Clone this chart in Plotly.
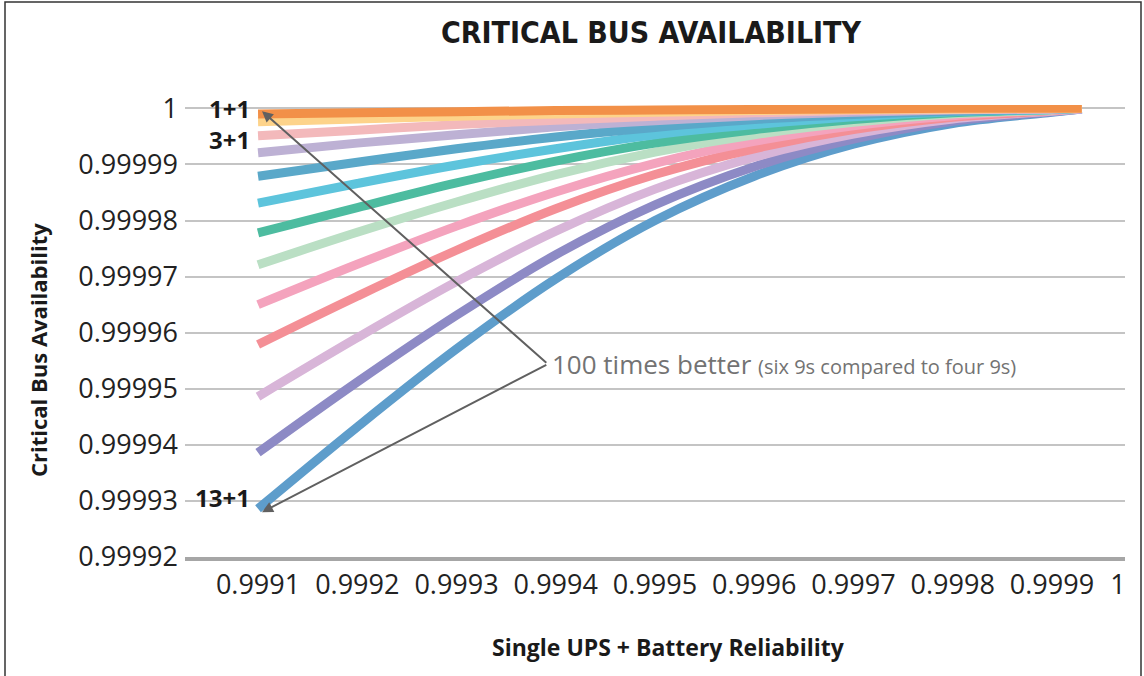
import plotly.graph_objects as go

# ---- data ----
x_rel = [0.9991, 0.9992, 0.9993, 0.9994, 0.9995, 0.9996, 0.9997, 0.9998, 0.9999, 0.99993]

config_names = ["1+1", "2+1", "3+1", "4+1", "5+1", "6+1", "7+1",
                "8+1", "9+1", "10+1", "11+1", "12+1", "13+1"]

avail_1p1 = [0.9999990, 0.9999992, 0.9999994, 0.9999996, 0.9999997, 0.9999998, 0.9999999, 1.0000000, 1.0000000, 1.0000000]
avail_2p1 = [0.9999976, 0.9999981, 0.9999986, 0.9999990, 0.9999993, 0.9999996, 0.9999998, 0.9999999, 1.0000000, 1.0000000]
avail_3p1 = [0.9999951, 0.9999961, 0.9999971, 0.9999979, 0.9999986, 0.9999992, 0.9999996, 0.9999998, 0.9999999, 1.0000000]
avail_4p1 = [0.9999921, 0.9999938, 0.9999953, 0.9999967, 0.9999978, 0.9999987, 0.9999993, 0.9999997, 0.9999999, 1.0000000]
avail_5p1 = [0.9999879, 0.9999904, 0.9999928, 0.9999949, 0.9999966, 0.9999980, 0.9999989, 0.9999995, 0.9999999, 1.0000000]
avail_6p1 = [0.9999831, 0.9999866, 0.9999899, 0.9999928, 0.9999953, 0.9999971, 0.9999985, 0.9999994, 0.9999998, 1.0000000]
avail_7p1 = [0.9999778, 0.9999823, 0.9999867, 0.9999906, 0.9999938, 0.9999962, 0.9999980, 0.9999992, 0.9999998, 1.0000000]
avail_8p1 = [0.9999721, 0.9999779, 0.9999833, 0.9999882, 0.9999922, 0.9999953, 0.9999975, 0.9999990, 0.9999997, 1.0000000]
avail_9p1 = [0.9999650, 0.9999722, 0.9999790, 0.9999851, 0.9999902, 0.9999941, 0.9999969, 0.9999987, 0.9999997, 1.0000000]
avail_10p1 = [0.9999579, 0.9999665, 0.9999747, 0.9999821, 0.9999882, 0.9999928, 0.9999962, 0.9999984, 0.9999996, 1.0000000]
avail_11p1 = [0.9999486, 0.9999591, 0.9999691, 0.9999781, 0.9999856, 0.9999913, 0.9999954, 0.9999981, 0.9999995, 0.9999999]
avail_12p1 = [0.9999386, 0.9999512, 0.9999631, 0.9999739, 0.9999828, 0.9999896, 0.9999945, 0.9999977, 0.9999994, 0.9999999]
avail_13p1 = [0.9999286, 0.9999432, 0.9999571, 0.9999696, 0.9999800, 0.9999879, 0.9999936, 0.9999973, 0.9999993, 0.9999999]

series = [avail_1p1, avail_2p1, avail_3p1, avail_4p1, avail_5p1, avail_6p1, avail_7p1,
          avail_8p1, avail_9p1, avail_10p1, avail_11p1, avail_12p1, avail_13p1]

colors = ["#F29048", "#FDD38A", "#F3B9BB", "#BDB1D4", "#5AA8C9", "#5DC4DC", "#4DBCA0",
          "#BADFC4", "#F4A3BD", "#F48F96", "#D8B5D8", "#8D8AC5", "#5E9DCB"]

x_ticks = [0.9991, 0.9992, 0.9993, 0.9994, 0.9995, 0.9996, 0.9997, 0.9998, 0.9999, 0.9999665]
x_tick_text = ["0.9991", "0.9992", "0.9993", "0.9994", "0.9995", "0.9996", "0.9997", "0.9998", "0.9999", "1"]
y_ticks = [0.99992, 0.99993, 0.99994, 0.99995, 0.99996, 0.99997, 0.99998, 0.99999, 1.0]
y_tick_text = ["0.99992", "0.99993", "0.99994", "0.99995", "0.99996", "0.99997", "0.99998", "0.99999", "1"]

FONT = "Open Sans, Noto Sans, sans-serif"
L, R, T, B = 185, 19, 105, 119
PW, PH = 1144 - L - R, 676 - T - B

def px(xp):
    return (xp - L) / PW

def py(yp):
    return (676 - B - yp) / PH

fig = go.Figure()
for name, vals, col in reversed(list(zip(config_names, series, colors))):
    fig.add_trace(go.Scatter(x=x_rel, y=vals, mode="lines", name=name,
                             line=dict(color=col, width=9, shape="spline", smoothing=1.0),
                             showlegend=False, hoverinfo="skip"))

# arrows from the note to 1+1 and 13+1 start points
tail_x, tail_y = 0.999392, 0.9999544
for tip_y in [0.9999995, 0.999928]:
    fig.add_annotation(x=0.999104, y=tip_y, ax=tail_x, ay=tail_y, xref="x", yref="y",
                       axref="x", ayref="y", text="", showarrow=True, arrowhead=2,
                       arrowsize=1.1, arrowwidth=2, arrowcolor="#606060")

fig.add_annotation(x=0.999394, y=tail_y, xref="x", yref="y", xanchor="left", yanchor="middle",
                   showarrow=False,
                   text="100 times better <span style='font-size:20px'>(six 9s compared to four 9s)</span>",
                   font=dict(family=FONT, size=26, color="#737373"))

# series labels
for txt, yv in [("1+1", 1.0), ("3+1", 0.9999945), ("13+1", 0.9999307)]:
    fig.add_annotation(x=0.9991, y=yv, xref="x", yref="y", xanchor="right", yanchor="middle",
                       xshift=-6, showarrow=False, text="<b>%s</b>" % txt,
                       font=dict(family=FONT, size=24, color="#1a1a1a"))

# axis titles
fig.add_annotation(x=px(38), y=py(350), xref="paper", yref="paper", showarrow=False,
                   xanchor="center", yanchor="middle",
                   text="<b>Critical Bus Availability</b>", textangle=-90,
                   font=dict(family=FONT, size=22, color="#1a1a1a"))
fig.add_annotation(x=px(668), y=py(647), xref="paper", yref="paper", showarrow=False,
                   xanchor="center", yanchor="middle",
                   text="<b>Single UPS + Battery Reliability</b>",
                   font=dict(family=FONT, size=23, color="#1a1a1a"))

fig.update_layout(
    width=1144, height=676,
    margin=dict(l=L, r=R, t=T, b=B, autoexpand=False),
    paper_bgcolor="white", plot_bgcolor="white",
    title=dict(text="<b>CRITICAL BUS AVAILABILITY</b>", x=651 / 1144, xanchor="center",
               y=1 - 32 / 676, yanchor="middle",
               font=dict(family="Liberation Sans Narrow, DejaVu Sans Condensed, Arial Narrow, sans-serif",
                         size=30, color="#1a1a1a")),
    xaxis=dict(range=[0.9990264, 0.9999736], tickvals=x_ticks, ticktext=x_tick_text,
               showgrid=False, zeroline=False, showline=True, linecolor="#A6A6A6", linewidth=4,
               ticks="", ticklabelstandoff=1,
               tickfont=dict(family=FONT, size=27, color="#222222")),
    yaxis=dict(range=[0.99992, 1.0000006], tickvals=y_ticks, ticktext=y_tick_text,
               showgrid=True, gridcolor="#C4C4C4", gridwidth=1.5, zeroline=False,
               showline=False, ticks="", ticklabelstandoff=6,
               tickfont=dict(family=FONT, size=27, color="#222222")),
)

# outer border
fig.add_shape(type="rect", xref="paper", yref="paper",
              x0=px(5), x1=px(1141), y0=py(680), y1=py(2),
              line=dict(color="#333333", width=1.5), fillcolor="rgba(0,0,0,0)", layer="below")

fig.write_html("out.html", config={"displayModeBar": False},
               post_script="document.body.style.margin='0px';")
